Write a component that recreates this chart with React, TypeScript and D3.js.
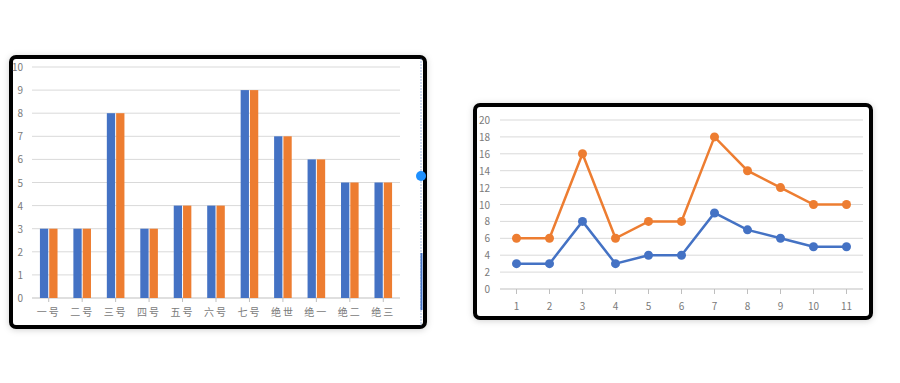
import React from "react";
import * as d3 from "d3";

const categories = ["一号", "二号", "三号", "四号", "五号", "六号", "七号", "绝世", "绝一", "绝二", "绝三"];
const seriesA = [3, 3, 8, 3, 4, 4, 9, 7, 6, 5, 5];
const seriesB = [3, 3, 8, 3, 4, 4, 9, 7, 6, 5, 5];
const lineX = ["1", "2", "3", "4", "5", "6", "7", "8", "9", "10", "11"];
const lineBlue = [3, 3, 8, 3, 4, 4, 9, 7, 6, 5, 5];
const lineOrange = [6, 6, 16, 6, 8, 8, 18, 14, 12, 10, 10];
const barTicks = [0, 1, 2, 3, 4, 5, 6, 7, 8, 9, 10];
const lineTicks = [0, 2, 4, 6, 8, 10, 12, 14, 16, 18, 20];

const BLUE = "#4472C4";
const ORANGE = "#ED7D31";
const GRID = "#d9d9d9";
const TXT = "#7a7a7a";
const FONT = "'Noto Sans CJK SC', 'Noto Sans', sans-serif";

function BarChart() {
  const x = d3.scaleBand().domain(categories).range([32, 400]).padding(0);
  const y = d3.scaleLinear().domain([0, 10]).range([298, 67]);
  const bw = 8.3;
  return (
    <g>
      <rect x={11} y={57} width={414} height={270} rx={5} fill="#fff" stroke="#000" strokeWidth={4} filter="url(#sh)" />
      {barTicks.map((t) => (
        <g key={t}>
          <line x1={32} x2={400} y1={y(t)} y2={y(t)} stroke={t === 0 ? "#bfbfbf" : GRID} strokeWidth={1} />
          <text x={23} y={y(t) + 4} textAnchor="end" fontSize={10} fill={TXT} fontFamily={FONT}>{t}</text>
        </g>
      ))}
      {categories.map((c, i) => {
        const cx = x(c)! + x.bandwidth() / 2;
        return (
          <g key={c}>
            <rect x={cx - bw - 0.5} y={y(seriesA[i])} width={bw} height={y(0) - y(seriesA[i])} fill={BLUE} />
            <rect x={cx + 0.5} y={y(seriesB[i])} width={bw} height={y(0) - y(seriesB[i])} fill={ORANGE} />
            <line x1={cx} x2={cx} y1={298} y2={302} stroke="#bfbfbf" />
            <text x={cx} y={316} textAnchor="middle" fontSize={10} fill={TXT} fontFamily={FONT} letterSpacing={2}>{c}</text>
          </g>
        );
      })}
      <line x1={421} x2={421} y1={58} y2={326} stroke={BLUE} strokeWidth={0.8} strokeDasharray="2,1" opacity={0.6} />
      <line x1={421.5} x2={421.5} y1={253} y2={310} stroke={BLUE} strokeWidth={2} />
      <circle cx={421} cy={176} r={5} fill="#1e90ff" />
    </g>
  );
}

function LineChart() {
  const x = d3.scalePoint().domain(lineX).range([500, 863]).padding(0.5);
  const y = d3.scaleLinear().domain([0, 20]).range([289, 120]);
  const line = d3.line<number>().x((_, i) => x(lineX[i])!).y((d) => y(d));
  return (
    <g>
      <rect x={475} y={105} width={396} height={213} rx={5} fill="#fff" stroke="#000" strokeWidth={4} filter="url(#sh)" />
      {lineTicks.map((t) => (
        <g key={t}>
          <line x1={500} x2={863} y1={y(t)} y2={y(t)} stroke={t === 0 ? "#bfbfbf" : GRID} strokeWidth={1} />
          <text x={490} y={y(t) + 4} textAnchor="end" fontSize={10} fill={TXT} fontFamily={FONT}>{t}</text>
        </g>
      ))}
      {lineX.map((l) => (
        <g key={l}>
          <line x1={x(l)!} x2={x(l)!} y1={289} y2={294} stroke="#bfbfbf" />
          <text x={x(l)!} y={310} textAnchor="middle" fontSize={10} fill={TXT} fontFamily={FONT}>{l}</text>
        </g>
      ))}
      <path d={line(lineOrange)!} fill="none" stroke={ORANGE} strokeWidth={2.5} />
      <path d={line(lineBlue)!} fill="none" stroke={BLUE} strokeWidth={2.5} />
      {lineOrange.map((v, i) => (
        <circle key={"o" + i} cx={x(lineX[i])!} cy={y(v)} r={4.5} fill={ORANGE} />
      ))}
      {lineBlue.map((v, i) => (
        <circle key={"b" + i} cx={x(lineX[i])!} cy={y(v)} r={4.5} fill={BLUE} />
      ))}
    </g>
  );
}

export default function App() {
  return (
    <svg width={900} height={383} style={{ position: "absolute", left: 0, top: 0, background: "#fff" }}>
      <defs>
        <filter id="sh" x="-10%" y="-10%" width="120%" height="120%">
          <feDropShadow dx={0} dy={1} stdDeviation={3} floodColor="#000" floodOpacity={0.18} />
        </filter>
      </defs>
      <BarChart />
      <LineChart />
    </svg>
  );
}
